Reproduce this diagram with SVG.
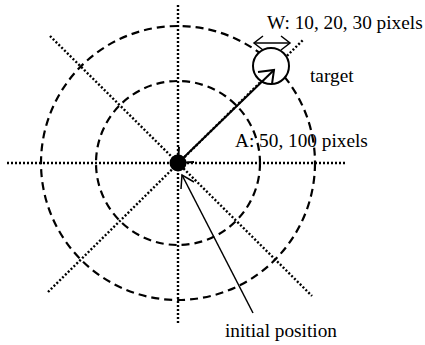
<svg xmlns="http://www.w3.org/2000/svg" width="425" height="345" viewBox="0 0 425 345">
<style>
.dash{fill:none;stroke:#000;stroke-width:2.2;stroke-dasharray:8 5}
.dot{fill:none;stroke:#000;stroke-width:2.4;stroke-dasharray:2 2}
.solid{fill:none;stroke:#000;stroke-width:2}
.thin{fill:none;stroke:#000;stroke-width:1.5}
text{font-family:"Liberation Serif","Times New Roman",serif;font-size:19.3px;fill:#000}
</style>
<rect width="425" height="345" fill="#fff"/>
<g id="rings">
<circle class="dash" cx="178" cy="163" r="137"/>
<circle class="dash" cx="178" cy="163" r="82"/>
</g>
<g id="axes">
<line class="dot" x1="178" y1="5" x2="178" y2="325"/>
<line class="dot" x1="7" y1="163" x2="345" y2="163"/>
<line class="dot" x1="50" y1="36" x2="312" y2="296"/>
<line class="dot" x1="48" y1="292" x2="303" y2="40"/>
</g>
<g id="target">
<circle cx="271" cy="66" r="18" fill="#fff" stroke="#000" stroke-width="2"/>
</g>
<g id="connectors">
<line class="solid" x1="178" y1="163" x2="274" y2="70"/>
<polyline class="solid" points="258,72 274,70 272,84"/>
<polyline class="solid" points="179,147 178,163 194,162"/>
<line class="thin" x1="253" y1="313" x2="182" y2="175"/>
<polyline class="thin" points="181,189 182,175 194,182"/>
<line class="thin" x1="254" y1="43" x2="290" y2="43"/>
<polyline class="thin" points="263,36 254,43 263,50"/>
<polyline class="thin" points="281,36 290,43 281,50"/>
</g>
<g id="center">
<circle cx="178" cy="163" r="8.5" fill="#000"/>
</g>
<g id="labels">
<text x="267" y="29">W: 10, 20, 30 pixels</text>
<text x="310" y="82">target</text>
<text x="235" y="147">A: 50, 100 pixels</text>
<text x="225" y="337">initial position</text>
</g>
</svg>
